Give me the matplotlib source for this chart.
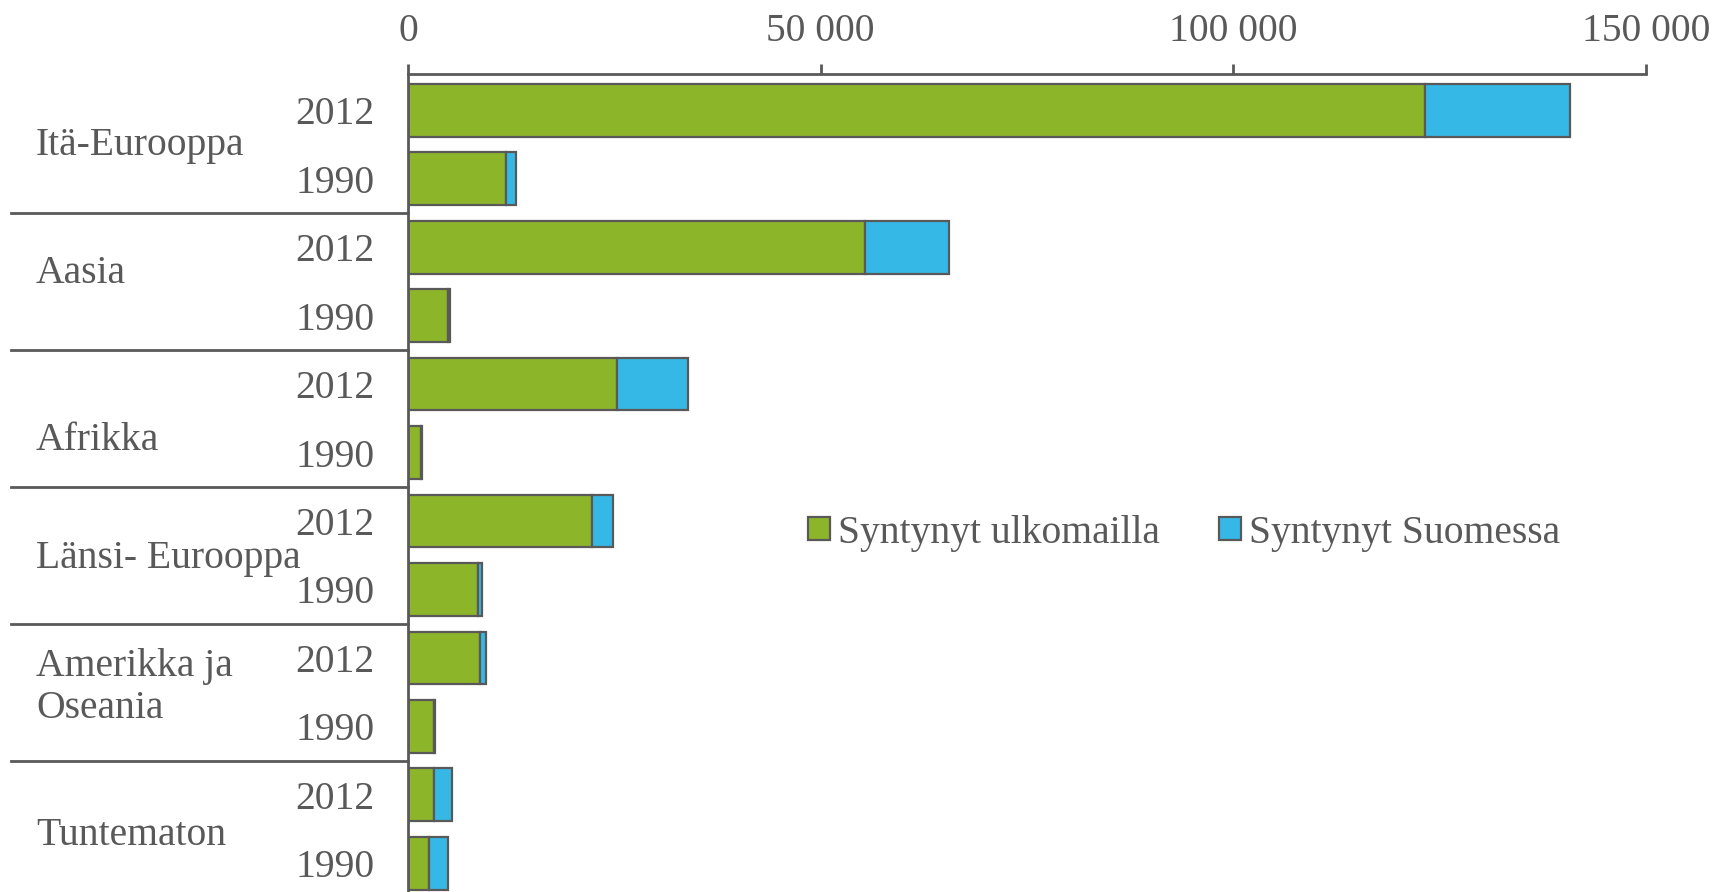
"""
Ulkomaalaistaustaiset alueittain 1990 ja 2012
"""

import matplotlib.pyplot as plt
import matplotlib.ticker as mticker
import numpy as np

#---------------------------------------------------------------------------------------------------
# Data
#---------------------------------------------------------------------------------------------------

regions = ['Itä-Eurooppa', 'Aasia', 'Afrikka', 'Länsi- Eurooppa', 'Amerikka ja\nOseania', 'Tuntematon']
years = ['2012', '1990']

abroad_2012 = [123200, 55400, 25300, 22300, 8750, 3200]
finland_2012 = [17600, 10200, 8600, 2500, 650, 2100]
abroad_1990 = [11900, 4900, 1600, 8500, 3150, 2500]
finland_1990 = [1200, 200, 150, 500, 150, 2300]

series_labels = ['Syntynyt ulkomailla', 'Syntynyt Suomessa']
xticks = [0, 50000, 100000, 150000]

# label nudges (in bar slots) as placed in the original
label_shift = [0.02, -0.11, 0.32, 0.05, -0.07, 0.10]

#---------------------------------------------------------------------------------------------------
# Plot
#---------------------------------------------------------------------------------------------------

green = '#8db52a'
blue = '#36b8e6'
grey = '#595959'
fs = 28.5

plt.rcParams['font.family'] = ['Liberation Serif', 'DejaVu Serif']

fig = plt.figure(figsize=(17.16, 8.92), dpi=100)
ax = fig.add_axes([408/1716, 0.0, (1646-408)/1716, 1 - 74/892])

n = len(regions)
abroad = np.ravel(np.column_stack([abroad_2012, abroad_1990]))
finland = np.ravel(np.column_stack([finland_2012, finland_1990]))
ypos = np.arange(2*n)

ax.barh(ypos, abroad, height=0.77, color=green, edgecolor=grey, lw=1.6, label=series_labels[0])
ax.barh(ypos, finland, left=abroad, height=0.77, color=blue, edgecolor=grey, lw=1.6,
        label=series_labels[1])

ax.set_xlim(0, 150000)
ax.set_ylim(11.42, -0.53)

ax.xaxis.set_ticks_position('top')
ax.set_xticks(xticks)
ax.xaxis.set_major_formatter(mticker.FuncFormatter(lambda v, p: f'{int(v):,}'.replace(',', ' ')))
ax.tick_params(axis='x', direction='out', length=7, width=2, color=grey, labelcolor=grey,
               labelsize=fs, pad=10)
ax.set_yticks(ypos)
ax.set_yticklabels(years * n)
ax.tick_params(axis='y', length=0, labelcolor=grey, labelsize=fs, pad=24)

for s in ['right', 'bottom']:
    ax.spines[s].set_visible(False)
for s in ['top', 'left']:
    ax.spines[s].set_color(grey)
    ax.spines[s].set_linewidth(2)

# group labels and separators
x_fig_left = 11/1716
ax_left = 408/1716
ax_w = (1646-408)/1716
xl = (x_fig_left - ax_left) / ax_w
for i, reg in enumerate(regions):
    ax.text((36/1716 - ax_left)/ax_w, 2*i + 0.5 + label_shift[i], reg, transform=ax.get_yaxis_transform(),
            ha='left', va='center', fontsize=fs, color=grey, linespacing=1.2)
    if i < n - 1:
        ax.plot([xl, 0], [2*i + 1.5, 2*i + 1.5], transform=ax.get_yaxis_transform(),
                color=grey, lw=2, clip_on=False)

fig.legend(loc='center left', bbox_to_anchor=(808/1716, 1 - 533/892), ncol=2, frameon=False,
           fontsize=fs, labelcolor=grey, handlelength=0.55, handleheight=0.55, handletextpad=0.2,
           columnspacing=1.5, borderpad=0, borderaxespad=0)

plt.savefig('out.png', dpi=100)
